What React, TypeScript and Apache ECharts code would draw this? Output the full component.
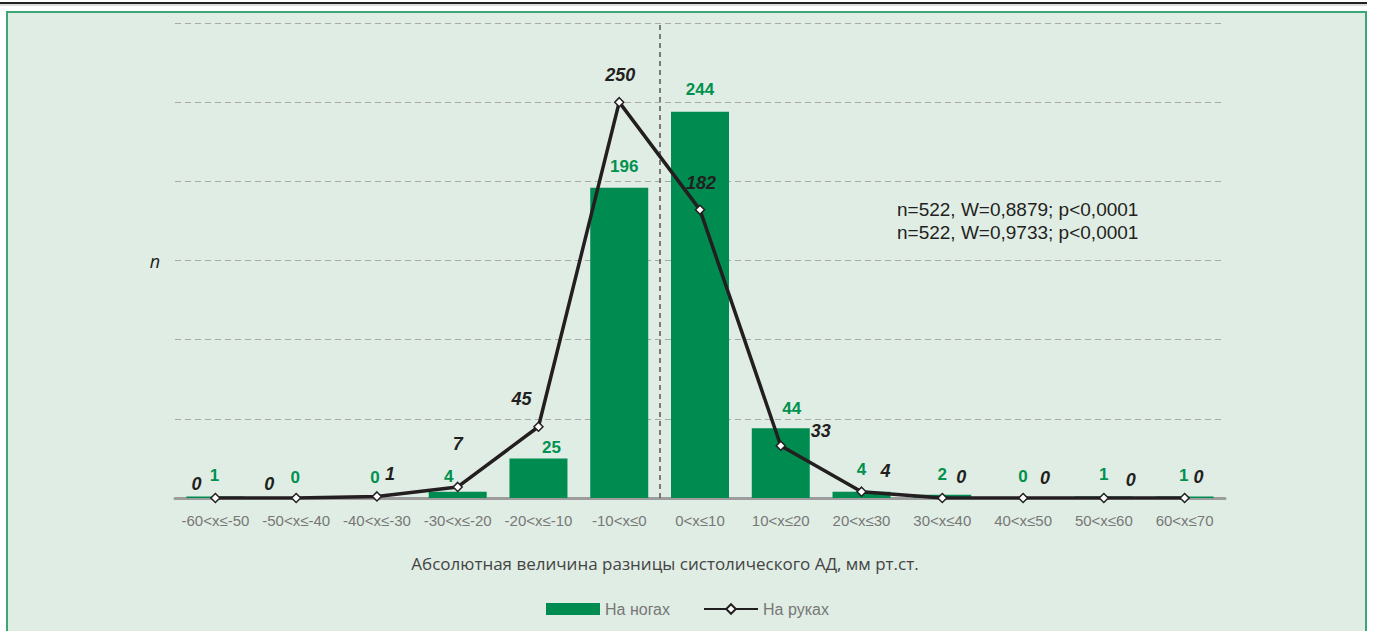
import React, { useEffect, useRef } from "react";
import * as echarts from "echarts";

const categories = [
  "-60<x≤-50", "-50<x≤-40", "-40<x≤-30", "-30<x≤-20", "-20<x≤-10", "-10<x≤0",
  "0<x≤10", "10<x≤20", "20<x≤30", "30<x≤40", "40<x≤50", "50<x≤60", "60<x≤70",
];
const legsValues = [1, 0, 0, 4, 25, 196, 244, 44, 4, 2, 0, 1, 1];
const armsValues = [0, 0, 1, 7, 45, 250, 182, 33, 4, 0, 0, 0, 0];
const yMin = 0;
const yMax = 300;
const yInterval = 50;
const legsName = "На ногах";
const armsName = "На руках";
const xTitle = "Абсолютная величина разницы систолического АД, мм рт.ст.";
const statLines = ["n=522, W=0,8879; p<0,0001", "n=522, W=0,9733; p<0,0001"];

// label placement (layout only)
const barLabelOffsets = [
  [-1, -12], [-1, -12], [-2, -12], [-9, -6], [13, -2], [5, -12], [0, -13],
  [11, -11], [0, -13], [0, -11], [0, -13], [0, -13], [-1, -12],
];
const lineLabelOffsets = [
  [-19, -14], [-27, -14], [13, -22], [0, -43], [-17, -28], [1, -27], [1, -27],
  [40, -15], [24, -21], [19, -21], [22, -20], [27, -18], [14, -21],
];

export default function App() {
  const ref = useRef<HTMLDivElement>(null);
  useEffect(() => {
    if (!ref.current) return;
    const chart = echarts.init(ref.current, null, { renderer: "svg" });
    const option: any = {
      animation: false,
      backgroundColor: "#ffffff",
      graphic: [
        { type: "rect", z: -100, shape: { x: 7, y: 12, width: 1359, height: 640 }, style: { fill: "#e0ede4", stroke: "#3ba676", lineWidth: 2 } },
        { type: "line", z: -100, shape: { x1: 0, y1: 3, x2: 1367, y2: 3 }, style: { stroke: "#222", lineWidth: 2 } },
        { type: "line", z: -100, shape: { x1: 0, y1: 5, x2: 1367, y2: 5 }, style: { stroke: "#bbb", lineWidth: 1 } },
        { type: "text", x: 155, y: 261, style: { text: "n", fontSize: 18, fontStyle: "italic", fontFamily: "Open Sans", fill: "#231f20", align: "center", verticalAlign: "middle" } },
        { type: "text", x: 897, y: 209.5, style: { text: statLines[0], fontSize: 19, fontFamily: "Liberation Sans", fill: "#231f20", align: "left", verticalAlign: "middle" } },
        { type: "text", x: 897, y: 232.5, style: { text: statLines[1], fontSize: 19, fontFamily: "Liberation Sans", fill: "#231f20", align: "left", verticalAlign: "middle" } },
        { type: "text", x: 665, y: 563, style: { text: xTitle, fontSize: 17, fontFamily: "Open Sans", fill: "#444", align: "center", verticalAlign: "middle" } },
      ],
      grid: { left: 175, right: 150, top: 23, bottom: 133 },
      legend: {
        left: 541,
        top: 596,
        itemWidth: 54,
        itemHeight: 12,
        itemGap: 33,
        textStyle: { fontSize: 16, color: "#777", fontFamily: "Liberation Sans" },
        data: [{ name: legsName, icon: "rect" }, { name: armsName }],
      },
      xAxis: [
        {
          type: "category",
          data: categories,
          axisTick: { show: false },
          axisLine: { lineStyle: { color: "#9d9d9d", width: 3 } },
          axisLabel: { color: "#777", fontSize: 15, margin: 15, fontFamily: "Liberation Sans", interval: 0 },
        },
        { type: "value", min: 0, max: categories.length, show: false },
      ],
      yAxis: {
        type: "value",
        min: yMin,
        max: yMax,
        interval: yInterval,
        axisLabel: { show: false },
        axisLine: { show: false },
        axisTick: { show: false },
        splitLine: { lineStyle: { color: "#a8a8a8", type: [6, 4], width: 1 } },
      },
      series: [
        {
          name: legsName,
          type: "bar",
          barWidth: 58,
          itemStyle: { color: "#008c50" },
          data: legsValues.map((v, i) => ({
            value: v,
            label: { offset: barLabelOffsets[i] },
          })),
          label: {
            show: true,
            position: "top",
            distance: 0,
            lineHeight: 18,
            color: "#00914f",
            fontSize: 17,
            fontWeight: "bold",
            fontFamily: "Liberation Sans",
          },
          z: 2,
        },
        {
          name: armsName,
          type: "line",
          symbol: "diamond",
          symbolSize: 9,
          lineStyle: { color: "#231f20", width: 3.5 },
          itemStyle: { color: "#ffffff", borderColor: "#231f20", borderWidth: 1.5 },
          data: armsValues.map((v, i) => ({
            value: v,
            label: { offset: lineLabelOffsets[i] },
          })),
          label: {
            show: true,
            position: "inside",
            color: "#231f20",
            fontSize: 18,
            fontWeight: "bold",
            fontStyle: "italic",
            fontFamily: "Liberation Sans",
          },
          z: 5,
        },
        {
          name: "divider",
          type: "line",
          xAxisIndex: 1,
          data: [],
          markLine: {
            silent: true,
            symbol: ["none", "none"],
            label: { show: false },
            lineStyle: { color: "#555", type: [5, 4], width: 1.5 },
            data: [{ xAxis: 6 }],
          },
        },
      ],
    };
    chart.setOption(option);
    return () => chart.dispose();
  }, []);
  return (
    <div
      ref={ref}
      style={{ position: "absolute", left: 0, top: 0, width: 1375, height: 631 }}
    />
  );
}
